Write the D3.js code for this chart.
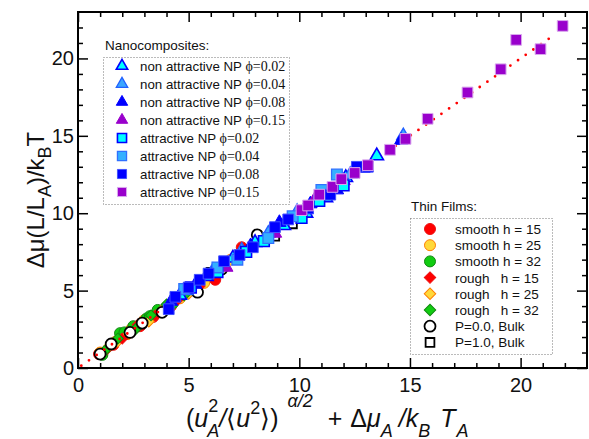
<!DOCTYPE html>
<html>
<head>
<meta charset="utf-8">
<script src="https://cdn.jsdelivr.net/npm/d3@7"></script>
<style>
  body { margin: 0; background: #fff; overflow: hidden; }
  svg { display: block; font-family: "Liberation Sans", Arial, sans-serif; overflow: visible; }
</style>
</head>
<body>
<svg width="589" height="439"></svg>
<script>
const svg = d3.select('svg');
const width  = +svg.attr('width');
const height = +svg.attr('height');
const margin = {top: 12, bottom: 71, left: 78, right: 2};

// Data: [x, y]
// Nanocomposites, non attractive NP (triangles)
const nonAttr02 = [[4.6,4.7],[5.8,5.9],[7.0,7.1],[8.0,8.1],[9.3,9.2],[10.3,10.0],[11.2,11.0],[12.1,12.3],[13.5,13.7]];
const nonAttr04 = [[4.9,5.0],[6.1,6.3],[7.4,7.6],[8.6,8.7],[9.9,10.1],[11.0,11.3],[12.3,12.5],[14.7,15.0]];
const nonAttr08 = [[4.2,4.3],[5.3,5.4],[6.5,6.6],[7.8,7.9],[9.1,9.4],[10.5,10.6],[11.7,11.5],[12.9,12.9],[14.6,14.7]];
const nonAttr15 = [[6.7,6.5],[8.9,8.7],[10.7,10.9],[12.0,12.1]];
// Nanocomposites, attractive NP (squares)
const attr02 = [[5.1,5.2],[6.3,6.2],[7.6,7.5],[8.4,8.2],[10.1,9.7],[10.9,10.8],[12.0,11.8]];
const attr04 = [[4.8,5.1],[6.3,6.5],[7.2,7.0],[8.6,8.4],[9.7,9.8],[11.0,11.5],[11.7,12.5]];
const attr08 = [[4.1,3.8],[4.4,4.6],[5.0,5.2],[5.5,5.7],[5.9,6.1],[6.6,6.9],[7.3,7.3],[7.9,7.8],[8.9,9.1],[9.5,9.6],[10.4,10.3],[11.4,11.2],[12.6,13.0],[13.1,13.0]];
const attr15 = [[10.1,10.2],[10.4,10.5],[10.9,11.2],[11.5,11.7],[11.9,12.2],[12.5,12.6],[13.1,13.1],[14.1,14.1],[14.8,14.8],[15.8,16.1],[17.6,17.8],[19.1,19.3],[19.8,21.2],[20.9,20.6],[21.9,22.1]];
// Thin films
const smooth15 = [[0.95,0.9],[1.6,1.5],[2.2,2.2],[2.8,2.7],[3.4,3.3],[4.2,4.0],[5.3,5.1],[6.2,5.7],[7.4,7.8]];
const smooth25 = [[1.0,1.0],[1.7,1.7],[2.4,2.5],[3.0,3.1],[3.7,3.6],[4.6,4.5],[5.7,5.5],[6.9,7.0]];
const smooth32 = [[1.1,0.85],[1.9,2.25],[2.1,2.3],[2.5,2.7],[3.1,3.2],[3.25,3.35],[3.6,3.75],[4.3,4.2]];
const rough15 = [[1.3,1.2],[2.0,1.9],[2.7,2.8],[3.5,3.4],[4.5,4.4],[5.5,5.3],[6.5,6.5]];
const rough25 = [[1.4,1.4],[2.3,2.2],[3.2,3.0],[3.9,3.9],[5.0,4.8],[6.0,6.1]];
const rough32 = [[1.2,1.1],[1.8,1.9],[2.6,2.5],[3.3,3.4],[4.0,4.1],[4.8,4.7]];
const bulkP0 = [[1.0,0.9],[1.5,1.55],[2.35,2.3],[2.9,2.9],[3.8,3.6],[5.4,4.9],[6.5,6.4],[8.1,8.6]];
const bulkP1 = [[6.0,6.2],[8.9,8.5],[9.7,9.3]];
// reference line y = x
const refLine = [[0.15,0.15],[21.6,21.6]];

const nanoLabels = ['non attractive NP ', 'non attractive NP ', 'non attractive NP ', 'non attractive NP ',
                    'attractive NP ', 'attractive NP ', 'attractive NP ', 'attractive NP '];
const nanoPhi = ['0.02', '0.04', '0.08', '0.15', '0.02', '0.04', '0.08', '0.15'];
const filmLabels = ['smooth h = 15', 'smooth h = 25', 'smooth h = 32', 'rough\u00a0\u00a0 h = 15',
                    'rough\u00a0\u00a0 h = 25', 'rough\u00a0\u00a0 h = 32', 'P=0.0, Bulk', 'P=1.0, Bulk'];

const majorTicks = [0, 5, 10, 15, 20];

/** - - - - - - - - - - - - - - - - - - - - - - - - - - - - - - - - -
 * Layout and axes
 ** - - - - - - - - - - - - - - - - - - - - - - - - - - - - - - - - - */
const innerWidth  = width - margin.left - margin.right;
const innerHeight = height - margin.top - margin.bottom;

const chart = svg.append('g')
  .attr('transform', `translate(${margin.left},${margin.top})`);

const xScale = d3.scaleLinear().domain([0, 23]).range([0, innerWidth]);
const yScale = d3.scaleLinear().domain([0, 23]).range([innerHeight, 0]);

const minorTicks = d3.range(1, 23).filter(v => v % 5 !== 0);

function drawAxis(axis, transform, labels) {
  const g = chart.append('g').attr('class', 'axis').attr('transform', transform).call(axis);
  g.select('.domain').remove();
  g.selectAll('line').attr('stroke', '#000').attr('stroke-width', 1.5);
  if (labels) {
    g.selectAll('text').attr('font-size', 20).attr('fill', '#111')
      .attr('font-family', '"Liberation Sans", Arial, sans-serif');
  } else {
    g.selectAll('text').remove();
  }
  return g;
}

// major ticks (inward), mirrored on all sides
drawAxis(d3.axisBottom(xScale).tickValues(majorTicks).tickSize(-10).tickPadding(10).tickFormat(d3.format('d')),
  `translate(0,${innerHeight})`, true);
drawAxis(d3.axisTop(xScale).tickValues(majorTicks).tickSize(-10), 'translate(0,0)', false);
drawAxis(d3.axisLeft(yScale).tickValues(majorTicks).tickSize(-10).tickPadding(4).tickFormat(d3.format('d')),
  'translate(0,0)', true);
drawAxis(d3.axisRight(yScale).tickValues(majorTicks).tickSize(-10), `translate(${innerWidth},0)`, false);
// minor ticks
drawAxis(d3.axisBottom(xScale).tickValues(minorTicks).tickSize(-5), `translate(0,${innerHeight})`, false);
drawAxis(d3.axisTop(xScale).tickValues(minorTicks).tickSize(-5), 'translate(0,0)', false);
drawAxis(d3.axisLeft(yScale).tickValues(minorTicks).tickSize(-5), 'translate(0,0)', false);
drawAxis(d3.axisRight(yScale).tickValues(minorTicks).tickSize(-5), `translate(${innerWidth},0)`, false);

// frame
chart.append('rect')
  .attr('width', innerWidth).attr('height', innerHeight)
  .attr('fill', 'none').attr('stroke', '#000').attr('stroke-width', 2);

/** - - - - - - - - - - - - - - - - - - - - - - - - - - - - - - - - -
 * Marks
 ** - - - - - - - - - - - - - - - - - - - - - - - - - - - - - - - - - */
const shapes = {
  circle:   {type: d3.symbolCircle, size: 95, rot: 0},
  diamond:  {type: d3.symbolSquare, size: 60, rot: 45},
  square:   {type: d3.symbolSquare, size: 115, rot: 0},
  triangle: {type: d3.symbolTriangle, size: 78, rot: 0}
};

const filmSeries = [
  {data: smooth15, shape: 'circle',  fill: '#ff0000', stroke: '#ee1111'},
  {data: smooth25, shape: 'circle',  fill: '#ffd83a', stroke: '#ff7f00'},
  {data: smooth32, shape: 'circle',  fill: '#11cc11', stroke: '#118811'},
  {data: rough15,  shape: 'diamond', fill: '#ff0000', stroke: '#ee1111'},
  {data: rough25,  shape: 'diamond', fill: '#ffd83a', stroke: '#ff7f00'},
  {data: rough32,  shape: 'diamond', fill: '#11cc11', stroke: '#118811'},
  {data: bulkP0,   shape: 'circle',  fill: '#ffffff', stroke: '#000000', sw: 1.8},
  {data: bulkP1,   shape: 'square',  fill: '#ffffff', stroke: '#000000', sw: 1.8, size: 70}
];

const nanoSeries = [
  {data: nonAttr02, shape: 'triangle', fill: '#00ffff', stroke: '#0000ff', sw: 1.6},
  {data: nonAttr04, shape: 'triangle', fill: '#3ca6ff', stroke: '#2060ff', sw: 1.3},
  {data: nonAttr08, shape: 'triangle', fill: '#0000ff', stroke: '#0000ff'},
  {data: nonAttr15, shape: 'triangle', fill: '#9900cc', stroke: '#9900cc'},
  {data: attr02,    shape: 'square',   fill: '#00ffff', stroke: '#0000ff', sw: 1.6},
  {data: attr04,    shape: 'square',   fill: '#34b0ff', stroke: '#3070ff', sw: 1.3},
  {data: attr08,    shape: 'square',   fill: '#0000ff', stroke: '#4050ff'},
  {data: attr15,    shape: 'square',   fill: '#9900cc', stroke: '#d9a8ee'}
];

function symbolPath(s, scale) {
  const sh = shapes[s.shape];
  return d3.symbol().type(sh.type).size((s.size || sh.size) * (scale || 1))();
}

function drawSeries(s) {
  const sh = shapes[s.shape];
  chart.append('g').selectAll('path').data(s.data)
    .enter().append('path')
      .attr('d', symbolPath(s))
      .attr('transform', d => `translate(${xScale(d[0])},${yScale(d[1])}) rotate(${sh.rot})`)
      .attr('fill', s.fill)
      .attr('stroke', s.stroke)
      .attr('stroke-width', s.sw || 1);
}

filmSeries.forEach(drawSeries);

// dotted y = x line
chart.append('path')
  .datum(refLine)
  .attr('d', d3.line().x(d => xScale(d[0])).y(d => yScale(d[1])))
  .attr('fill', 'none')
  .attr('stroke', '#ff0000')
  .attr('stroke-width', 2.8)
  .attr('stroke-linecap', 'round')
  .attr('stroke-dasharray', '0 9.35');

nanoSeries.forEach(drawSeries);

/** - - - - - - - - - - - - - - - - - - - - - - - - - - - - - - - - -
 * Legends
 ** - - - - - - - - - - - - - - - - - - - - - - - - - - - - - - - - - */
function legendBox(x, y, w, h) {
  svg.append('rect')
    .attr('x', x).attr('y', y).attr('width', w).attr('height', h)
    .attr('fill', '#fff').attr('stroke', '#777').attr('stroke-width', 1)
    .attr('stroke-dasharray', '1,2');
}

// Nanocomposites
svg.append('text').attr('x', 105).attr('y', 50).attr('font-size', 13.5).attr('fill', '#111')
  .text('Nanocomposites:');
legendBox(103.5, 57.5, 186, 147);
nanoSeries.forEach((s, i) => {
  const cy = 66 + i * 18;
  const sh = shapes[s.shape];
  svg.append('path')
    .attr('d', symbolPath(s, 0.72))
    .attr('transform', `translate(122,${cy}) rotate(${sh.rot})`)
    .attr('fill', s.fill).attr('stroke', s.stroke).attr('stroke-width', s.sw || 1);
  const t = svg.append('text').attr('x', 140).attr('y', cy + 5).attr('font-size', 13.3).attr('fill', '#111');
  t.append('tspan').text(nanoLabels[i]);
  t.append('tspan').attr('font-family', '"Liberation Serif", "Times New Roman", serif')
    .attr('font-size', 14).text('ϕ=' + nanoPhi[i]);
});

// Thin films
svg.append('text').attr('x', 411).attr('y', 211).attr('font-size', 13.5).attr('fill', '#111')
  .text('Thin Films:');
legendBox(410.5, 218.5, 142, 136);
filmSeries.forEach((s, i) => {
  const cy = 229 + i * 16.2;
  const sh = shapes[s.shape];
  svg.append('path')
    .attr('d', symbolPath(s, s.shape === 'circle' ? 1 : 1.1))
    .attr('transform', `translate(430,${cy}) rotate(${sh.rot})`)
    .attr('fill', s.fill).attr('stroke', s.stroke).attr('stroke-width', s.sw || 1);
  svg.append('text').attr('x', 455).attr('y', cy + 5).attr('font-size', 13.5).attr('fill', '#111')
    .text(filmLabels[i]);
});

/** - - - - - - - - - - - - - - - - - - - - - - - - - - - - - - - - -
 * Axis titles
 ** - - - - - - - - - - - - - - - - - - - - - - - - - - - - - - - - - */
const yTitle = svg.append('text')
  .attr('transform', 'translate(44,200) rotate(-90)')
  .attr('text-anchor', 'middle')
  .attr('font-size', 24).attr('fill', '#111');
yTitle.append('tspan').text('Δμ(L/L');
yTitle.append('tspan').attr('font-size', 18).attr('dy', 7).text('A');
yTitle.append('tspan').attr('dy', -7).text(')/k');
yTitle.append('tspan').attr('font-size', 18).attr('dy', 7).text('B');
yTitle.append('tspan').attr('dy', -7).text('T');

const xTitle = svg.append('text')
  .attr('x', 186).attr('y', 427)
  .attr('font-size', 25).attr('fill', '#111');
const up = (txt) => xTitle.append('tspan').text(txt);
const it = (txt) => xTitle.append('tspan').attr('font-style', 'italic').text(txt);
up('(');
it('u');
it('A').attr('font-size', 18).attr('dy', 9.5).attr('dx', -1);
up('2').attr('font-size', 18).attr('dx', -11).attr('dy', -24.5);
it('/').attr('dy', 15).attr('dx', 1);
up('⟨');
it('u');
up('2').attr('font-size', 18).attr('dy', -13);
up('⟩)').attr('dy', 13);
it('α/2').attr('font-size', 18).attr('dy', -20).attr('dx', 9);
up('+').attr('dy', 20).attr('dx', 15);
up('Δ').attr('dx', 8);
it('μ');
it('A').attr('font-size', 18).attr('dy', 9.5);
it('/').attr('dy', -9.5).attr('dx', 6);
it('k');
it('B').attr('font-size', 18).attr('dy', 9.5);
it('T').attr('dy', -9.5).attr('dx', 10);
it('A').attr('font-size', 18).attr('dy', 9.5).attr('dx', 1);
</script>
</body>
</html>
